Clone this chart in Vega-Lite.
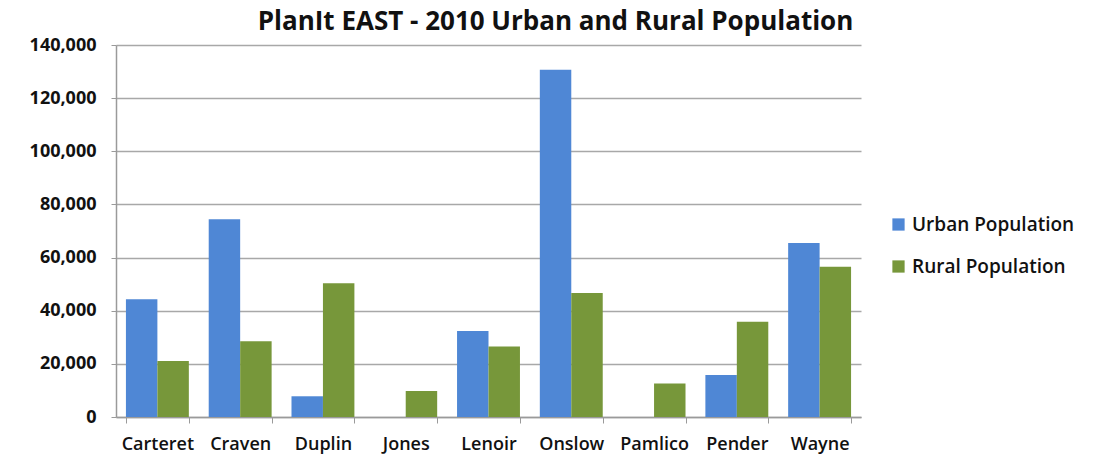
{
  "$schema": "https://vega.github.io/schema/vega-lite/v6.json",
  "width": 745,
  "height": 372,
  "autosize": {"type": "none"},
  "padding": {"left": 116, "top": 45, "right": 240, "bottom": 41},
  "background": "white",
  "title": {
    "text": "PlanIt EAST - 2010 Urban and Rural Population",
    "font": "Open Sans",
    "fontSize": 26,
    "fontWeight": "bold",
    "color": "#111111",
    "anchor": "middle",
    "dx": 67,
    "offset": 1
  },
  "data": {
    "values": [
      {"county": "Carteret", "type": "Urban Population", "pop": 44300},
      {"county": "Carteret", "type": "Rural Population", "pop": 21100},
      {"county": "Craven", "type": "Urban Population", "pop": 74400},
      {"county": "Craven", "type": "Rural Population", "pop": 28500},
      {"county": "Duplin", "type": "Urban Population", "pop": 7800},
      {"county": "Duplin", "type": "Rural Population", "pop": 50300},
      {"county": "Jones", "type": "Urban Population", "pop": 0},
      {"county": "Jones", "type": "Rural Population", "pop": 9800},
      {"county": "Lenoir", "type": "Urban Population", "pop": 32400},
      {"county": "Lenoir", "type": "Rural Population", "pop": 26500},
      {"county": "Onslow", "type": "Urban Population", "pop": 130700},
      {"county": "Onslow", "type": "Rural Population", "pop": 46700},
      {"county": "Pamlico", "type": "Urban Population", "pop": 0},
      {"county": "Pamlico", "type": "Rural Population", "pop": 12600},
      {"county": "Pender", "type": "Urban Population", "pop": 15800},
      {"county": "Pender", "type": "Rural Population", "pop": 35800},
      {"county": "Wayne", "type": "Urban Population", "pop": 65500},
      {"county": "Wayne", "type": "Rural Population", "pop": 56500}
    ]
  },
  "mark": {"type": "bar"},
  "encoding": {
    "x": {
      "field": "county",
      "type": "nominal",
      "sort": null,
      "scale": {"paddingInner": 0.24, "paddingOuter": 0.12},
      "axis": {
        "title": null,
        "labelAngle": 0,
        "labelFont": "Open Sans",
        "labelFontSize": 18,
        "labelFontWeight": 600,
        "labelColor": "#111111",
        "labelPadding": 12,
        "tickBand": "extent",
        "tickSize": 6,
        "tickColor": "#9a9a9a",
        "domainColor": "#9a9a9a",
        "domainWidth": 1.5,
        "grid": false
      }
    },
    "xOffset": {
      "field": "type",
      "type": "nominal",
      "sort": ["Urban Population", "Rural Population"],
      "scale": {"paddingInner": 0, "paddingOuter": 0}
    },
    "y": {
      "field": "pop",
      "type": "quantitative",
      "scale": {"domain": [0, 140000], "nice": false},
      "axis": {
        "title": null,
        "values": [0, 20000, 40000, 60000, 80000, 100000, 120000, 140000],
        "format": ",.0f",
        "labelFont": "Open Sans",
        "labelFontSize": 18,
        "labelFontWeight": "bold",
        "labelColor": "#111111",
        "labelPadding": 15,
        "tickSize": 5,
        "tickColor": "#9a9a9a",
        "domainColor": "#9a9a9a",
        "domainWidth": 1.5,
        "gridColor": "#a8a8a8",
        "gridWidth": 1.5
      }
    },
    "color": {
      "field": "type",
      "type": "nominal",
      "sort": ["Urban Population", "Rural Population"],
      "scale": {"domain": ["Urban Population", "Rural Population"], "range": ["#4f87d5", "#77973a"]},
      "legend": {
        "title": null,
        "orient": "none",
        "legendX": 773,
        "legendY": 170,
        "symbolType": "square",
        "symbolSize": 150,
        "symbolStrokeWidth": 0,
        "labelFont": "Open Sans",
        "labelFontSize": 19,
        "labelFontWeight": 600,
        "labelColor": "#111111",
        "labelOffset": 4,
        "labelLimit": 300,
        "rowPadding": 22
      }
    }
  },
  "config": {"view": {"stroke": null}}
}
